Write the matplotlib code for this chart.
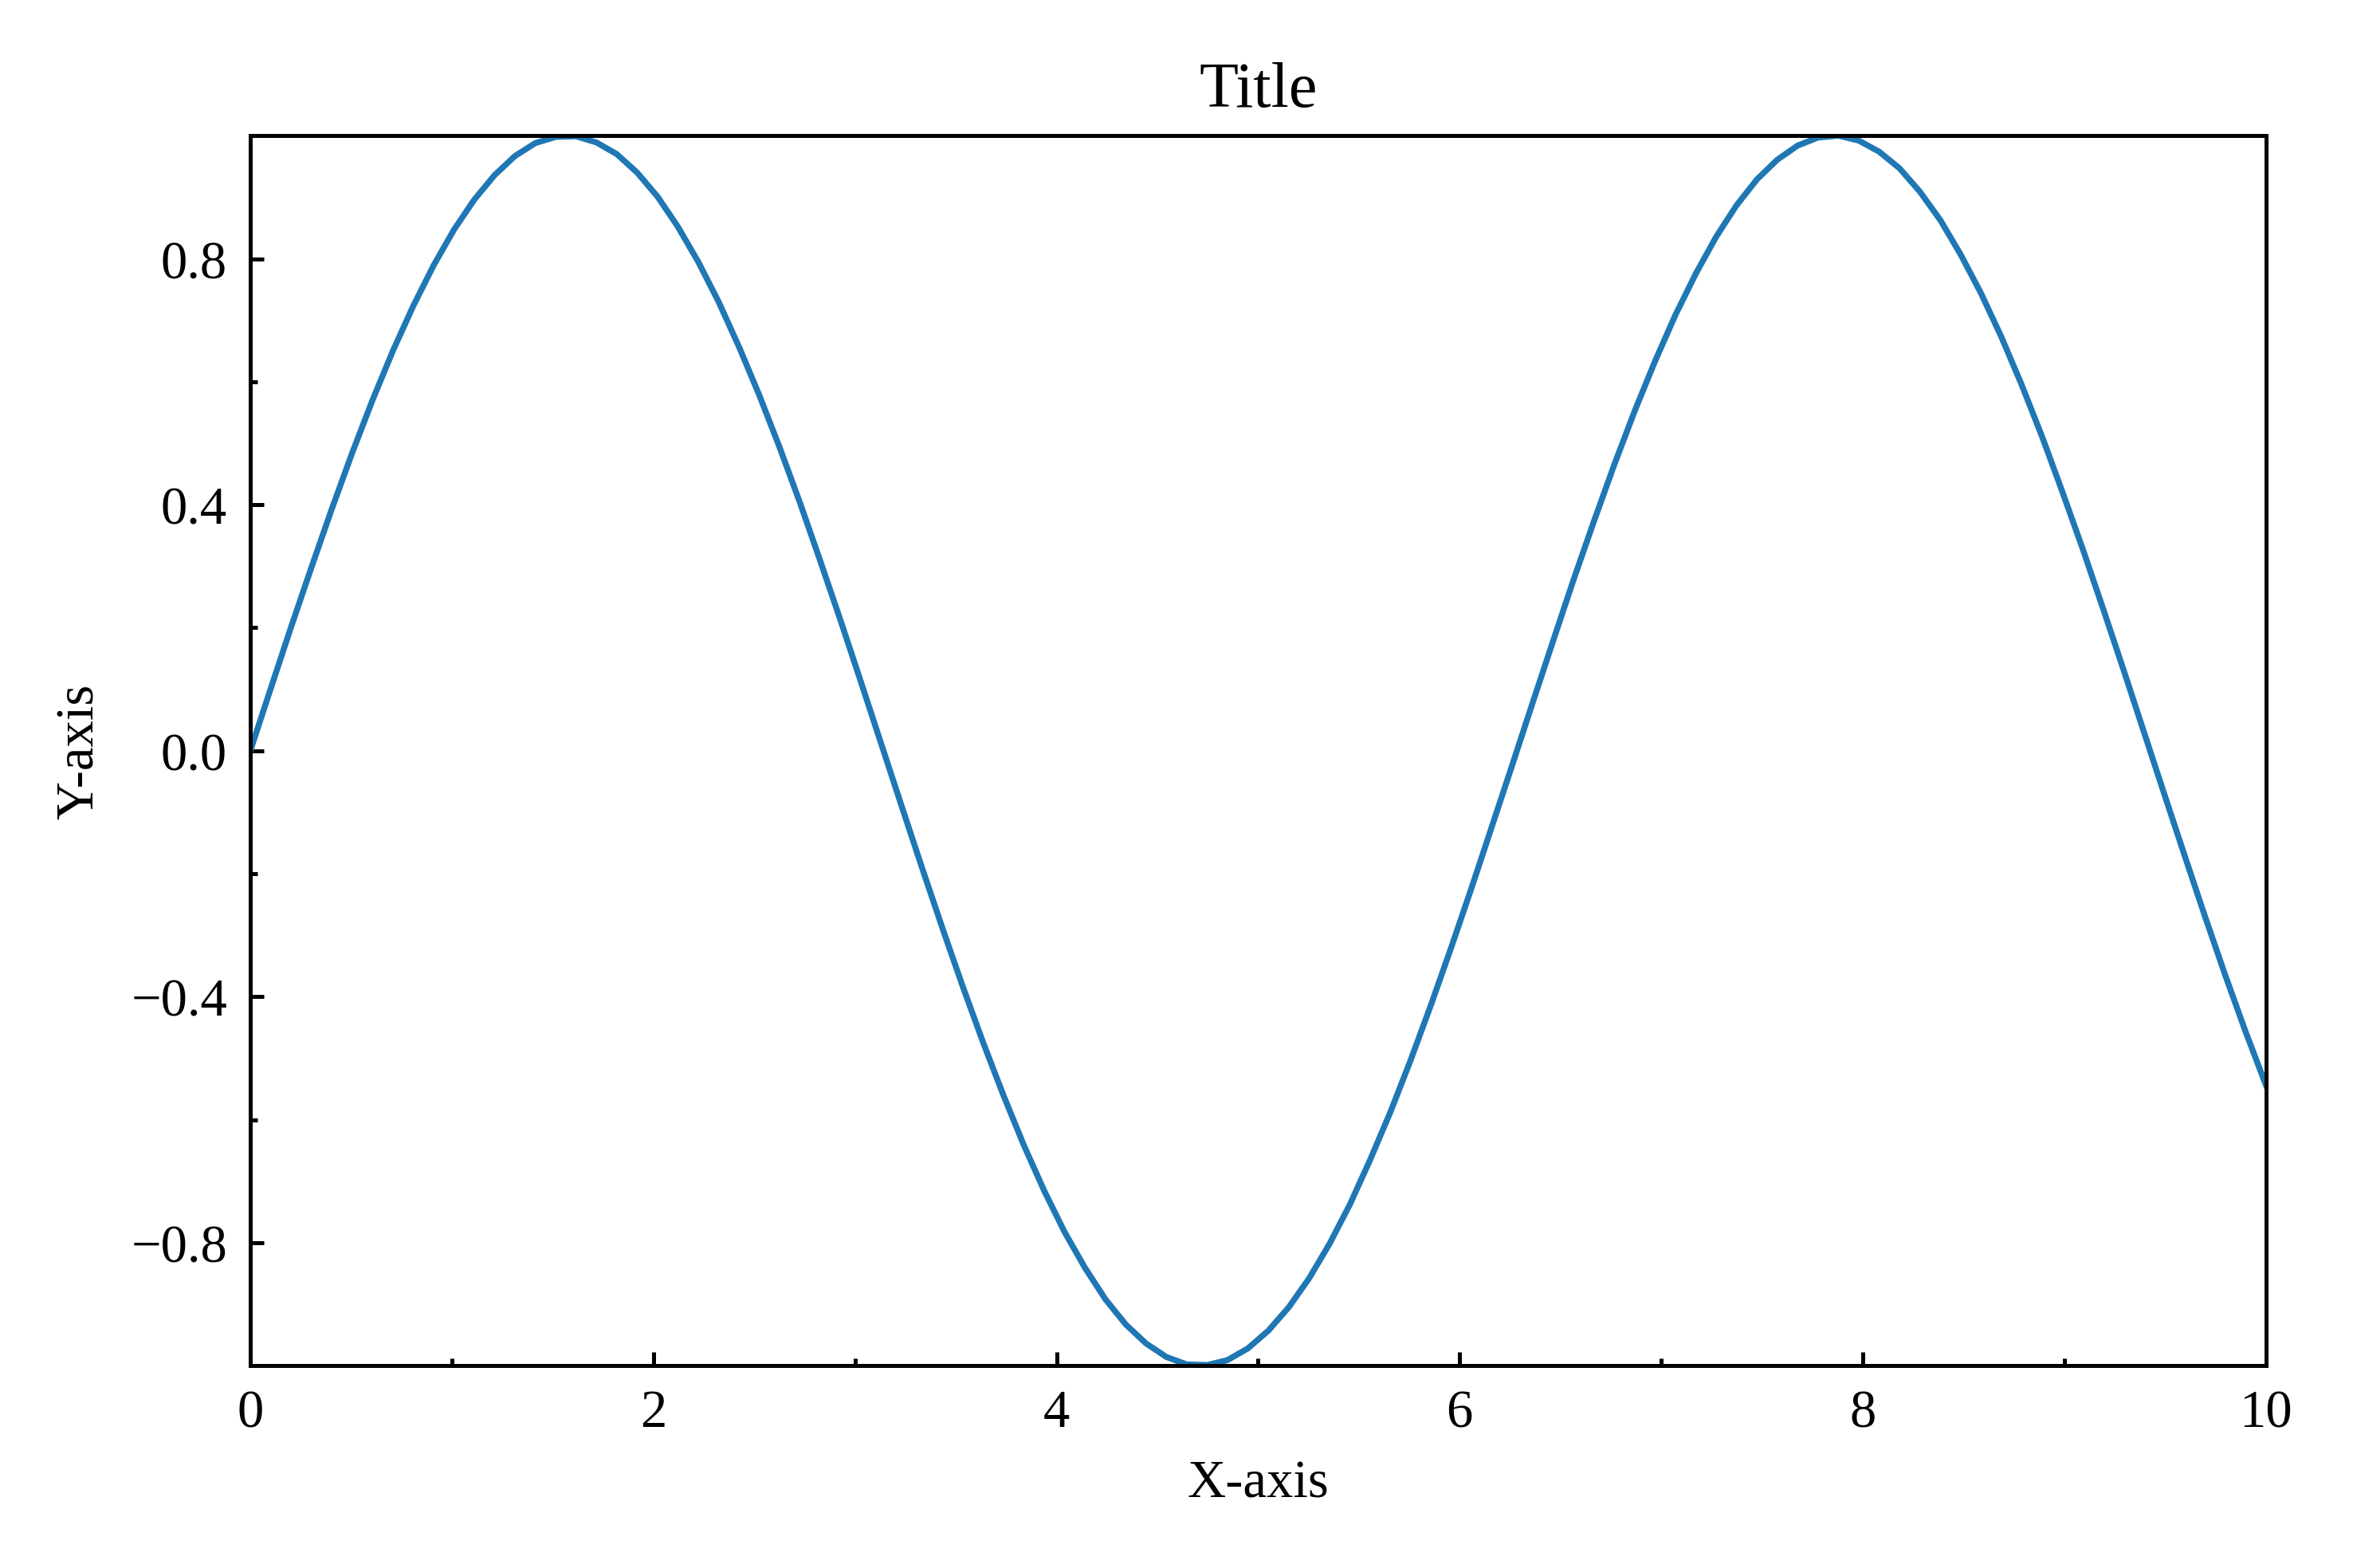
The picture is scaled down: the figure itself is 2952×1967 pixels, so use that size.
import matplotlib
matplotlib.use("Agg")
import matplotlib.pyplot as plt
from matplotlib.ticker import AutoMinorLocator

# === dados ===
x = [0.000, 0.101, 0.202, 0.303, 0.404, 0.505, 0.606, 0.707, 0.808, 0.909,
     1.010, 1.111, 1.212, 1.313, 1.414, 1.515, 1.616, 1.717, 1.818, 1.919,
     2.020, 2.121, 2.222, 2.323, 2.424, 2.525, 2.626, 2.727, 2.828, 2.929,
     3.030, 3.131, 3.232, 3.333, 3.434, 3.535, 3.636, 3.737, 3.838, 3.939,
     4.040, 4.141, 4.242, 4.343, 4.444, 4.545, 4.646, 4.747, 4.848, 4.949,
     5.051, 5.152, 5.253, 5.354, 5.455, 5.556, 5.657, 5.758, 5.859, 5.960,
     6.061, 6.162, 6.263, 6.364, 6.465, 6.566, 6.667, 6.768, 6.869, 6.970,
     7.071, 7.172, 7.273, 7.374, 7.475, 7.576, 7.677, 7.778, 7.879, 7.980,
     8.081, 8.182, 8.283, 8.384, 8.485, 8.586, 8.687, 8.788, 8.889, 8.990,
     9.091, 9.192, 9.293, 9.394, 9.495, 9.596, 9.697, 9.798, 9.899, 10.000]
y = [0.000, 0.101, 0.201, 0.298, 0.393, 0.484, 0.570, 0.650, 0.723, 0.789,
     0.847, 0.896, 0.936, 0.967, 0.988, 0.998, 0.999, 0.989, 0.970, 0.940,
     0.901, 0.852, 0.795, 0.730, 0.657, 0.578, 0.493, 0.403, 0.308, 0.211,
     0.111, 0.010, -0.091, -0.191, -0.289, -0.384, -0.475, -0.561, -0.642, -0.716,
     -0.783, -0.841, -0.892, -0.933, -0.964, -0.986, -0.998, -0.999, -0.991, -0.972,
     -0.943, -0.905, -0.858, -0.802, -0.738, -0.665, -0.587, -0.502, -0.412, -0.318,
     -0.221, -0.121, -0.021, 0.080, 0.180, 0.279, 0.374, 0.466, 0.553, 0.634,
     0.709, 0.776, 0.836, 0.887, 0.929, 0.961, 0.984, 0.997, 1.000, 0.992,
     0.974, 0.947, 0.909, 0.863, 0.807, 0.744, 0.673, 0.595, 0.511, 0.421,
     0.328, 0.231, 0.132, 0.031, -0.070, -0.170, -0.269, -0.365, -0.457, -0.544]

# === estilo ===
plt.rcParams['font.family'] = ['Liberation Serif', 'DejaVu Serif']
plt.rcParams['font.size'] = 8
plt.rcParams['axes.linewidth'] = 0.6

# === grafico ===
fig = plt.figure(figsize=(4.92, 3.28), dpi=600)
ax = fig.add_axes([0.1064, 0.129, 0.8566, 0.784])
ax.plot(x, y, color='#1f77b4', linewidth=0.9)
ax.set_xlim(0, 10)
ax.set_ylim(-1, 1)
ax.set_yticks([-0.8, -0.4, 0.0, 0.4, 0.8])
ax.xaxis.set_minor_locator(AutoMinorLocator(2))
ax.yaxis.set_minor_locator(AutoMinorLocator(2))
ax.tick_params(which='both', direction='in', width=0.6)
ax.tick_params(which='major', length=2.0)
ax.tick_params(which='minor', length=1.1)
ax.set_title("Title", pad=4.5)
ax.set_xlabel("X-axis", labelpad=3.3)
ax.set_ylabel("Y-axis")
fig.savefig("out.png", dpi=600)
